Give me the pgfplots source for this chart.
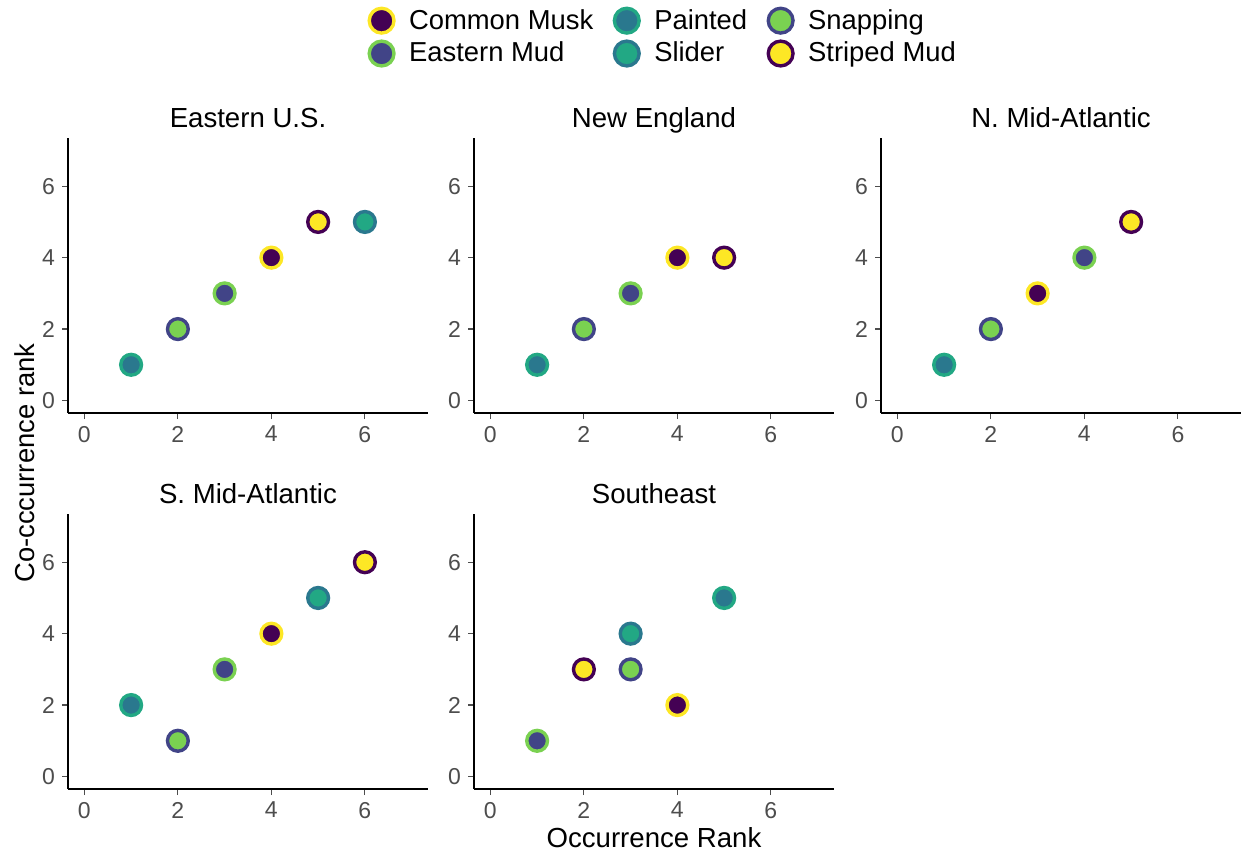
\documentclass[border=0pt]{standalone}
\usepackage{pgfplots}
\pgfplotsset{compat=1.18}
\usepackage{fontspec}
\setmainfont{Liberation Sans}
\definecolor{vA}{HTML}{440154}
\definecolor{vB}{HTML}{414487}
\definecolor{vC}{HTML}{2A788E}
\definecolor{vD}{HTML}{22A884}
\definecolor{vE}{HTML}{7AD151}
\definecolor{vF}{HTML}{FDE725}
\definecolor{tickgray}{HTML}{4D4D4D}
\pgfplotsset{
  every axis title shift=0pt,
  panel/.style={scale only axis, width=180pt, height=137.5pt,
    xmin=-0.35, xmax=7.35, ymin=-0.35, ymax=7.35,
    axis x line*=bottom, axis y line*=left,
    xtick={0,2,4,6}, ytick={0,2,4,6},
    tick align=outside, major tick length=3pt,
    tick style={tickgray, line width=0.6pt},
    axis line style={black, line width=1pt},
    ticklabel style={font=\fontsize{11.5}{13}\selectfont, text=tickgray},
    /pgf/number format/assume math mode=true,
    title style={font=\fontsize{13.8}{16}\selectfont, at={(0.5,1.04)}, anchor=base},
    clip=false},
  mk/.style 2 args={only marks, mark=*, mark size=5.2pt, mark options={fill=#1, draw=#2, line width=1.7pt}},
  CM/.style={mk={vA}{vF}},
  EM/.style={mk={vB}{vE}},
  PA/.style={mk={vC}{vD}},
  SL/.style={mk={vD}{vC}},
  SN/.style={mk={vE}{vB}},
  SM/.style={mk={vF}{vA}},
}
\begin{document}
\begin{tikzpicture}
\useasboundingbox (0,0) rectangle (620.5pt,426pt);
% Eastern U.S.
\begin{axis}[panel, at={(34pt,219.5pt)}, anchor=south west, title={Eastern U.S.},
  legend columns=3,
  legend image code/.code={\draw[#1, mark size=6.2pt] plot coordinates {(0.3cm,0cm)}; \path (0cm,-0.2cm) (0.6cm,0.2cm);},
  legend style={draw=none, fill=none, at={(1.65,1.367)}, anchor=center,
    font=\fontsize{13.7}{15}\selectfont, row sep=1pt,
    /tikz/every odd column/.append style={column sep=3pt},
    /tikz/every even column/.append style={column sep=6pt}},
  legend cell align=left]
\addlegendimage{CM}\addlegendentry{Common Musk}
\addlegendimage{PA}\addlegendentry{Painted}
\addlegendimage{SN}\addlegendentry{Snapping}
\addlegendimage{EM}\addlegendentry{Eastern Mud}
\addlegendimage{SL}\addlegendentry{Slider}
\addlegendimage{SM}\addlegendentry{Striped Mud}
\addplot[PA, forget plot] coordinates {(1,1)};
\addplot[SN, forget plot] coordinates {(2,2)};
\addplot[EM, forget plot] coordinates {(3,3)};
\addplot[CM, forget plot] coordinates {(4,4)};
\addplot[SM, forget plot] coordinates {(5,5)};
\addplot[SL, forget plot] coordinates {(6,5)};
\end{axis}
% New England
\begin{axis}[panel, at={(237pt,219.5pt)}, anchor=south west, title={New England}]
\addplot[PA] coordinates {(1,1)};
\addplot[SN] coordinates {(2,2)};
\addplot[EM] coordinates {(3,3)};
\addplot[CM] coordinates {(4,4)};
\addplot[SM] coordinates {(5,4)};
\end{axis}
% N. Mid-Atlantic
\begin{axis}[panel, at={(440.5pt,219.5pt)}, anchor=south west, title={N. Mid-Atlantic}]
\addplot[PA] coordinates {(1,1)};
\addplot[SN] coordinates {(2,2)};
\addplot[CM] coordinates {(3,3)};
\addplot[EM] coordinates {(4,4)};
\addplot[SM] coordinates {(5,5)};
\end{axis}
% S. Mid-Atlantic
\begin{axis}[panel, at={(34pt,31.5pt)}, anchor=south west, title={S. Mid-Atlantic},
  ylabel={Co-cccurrence rank},
  ylabel style={at={(-0.12,1.185)}, anchor=center, font=\fontsize{13.7}{16}\selectfont}]
\addplot[PA] coordinates {(1,2)};
\addplot[SN] coordinates {(2,1)};
\addplot[EM] coordinates {(3,3)};
\addplot[CM] coordinates {(4,4)};
\addplot[SL] coordinates {(5,5)};
\addplot[SM] coordinates {(6,6)};
\end{axis}
% Southeast
\begin{axis}[panel, at={(237pt,31.5pt)}, anchor=south west, title={Southeast},
  xlabel={Occurrence Rank},
  xlabel style={at={(0.5,-0.178)}, anchor=center, font=\fontsize{13.8}{16}\selectfont}]
\addplot[EM] coordinates {(1,1)};
\addplot[SM] coordinates {(2,3)};
\addplot[SN] coordinates {(3,3)};
\addplot[SL] coordinates {(3,4)};
\addplot[CM] coordinates {(4,2)};
\addplot[PA] coordinates {(5,5)};
\end{axis}
\end{tikzpicture}
\end{document}
